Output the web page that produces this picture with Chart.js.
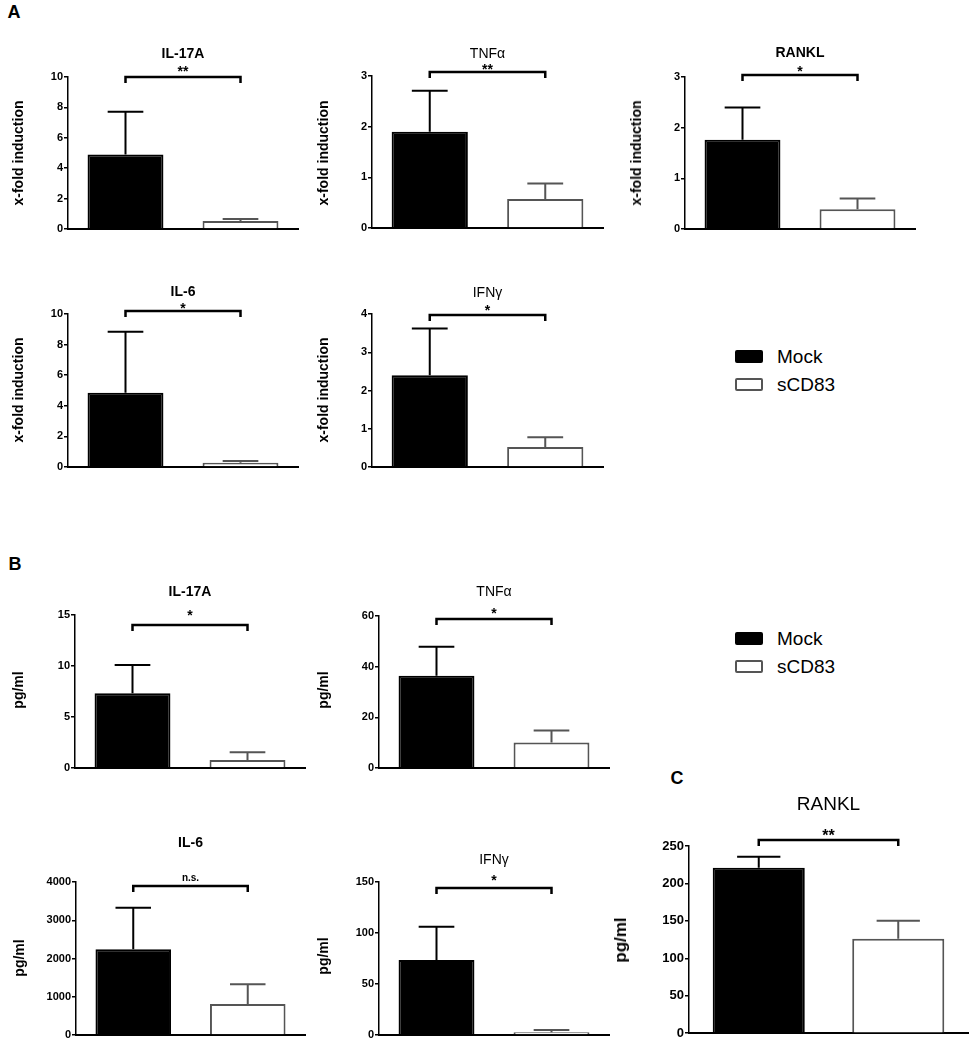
<!DOCTYPE html>
<html>
<head>
<meta charset="utf-8">
<script src="https://cdn.jsdelivr.net/npm/chart.js@4.4.0/dist/chart.umd.min.js"></script>
<style>
body { margin: 0; background: #fff; }
#fig { position: relative; width: 976px; height: 1042px; overflow: hidden; font-family: "Liberation Sans", Arial, sans-serif; }
#fig canvas { position: absolute; }
.lbl { position: absolute; white-space: nowrap; color: #000; }
.key { position: absolute; box-sizing: border-box; width: 28px; height: 13px; border-radius: 2px; }
</style>
</head>
<body>
<div id="fig"></div>
<script>
// ---- data ----
const groups = ['Mock', 'sCD83'];
const titles = ['IL-17A', 'TNFα', 'RANKL', 'IL-6', 'IFNγ', 'IL-17A', 'TNFα', 'IL-6', 'IFNγ', 'RANKL'];
const mockMean = [4.9, 1.9, 1.76, 4.86, 2.4, 7.32, 36.4, 2240, 73.5, 221];
const mockSem  = [2.82, 0.81, 0.64, 3.98, 1.22, 2.78, 11.5, 1090, 32.7, 14.8];
const cd83Mean = [0.52, 0.57, 0.39, 0.28, 0.52, 0.78, 10.1, 810, 2.6, 126.3];
const cd83Sem  = [0.14, 0.31, 0.21, 0.12, 0.26, 0.76, 4.7, 515, 2.3, 24];
const yMax  = [10, 3, 3, 10, 4, 15, 60, 4000, 150, 250];
const yStep = [2, 1, 1, 2, 1, 5, 20, 1000, 50, 50];
const signif = ['**', '**', '*', '*', '*', '*', '*', 'n.s.', '*', '**'];

// ---- panel placement (pixels) ----
const layout = [
    { x: 68,  r: 298, t: 77,  b: 229,  ty: 54,  sy: 68,  by: 77 },
    { x: 372, r: 603, t: 76,  b: 228,  ty: 54,  sy: 66,  by: 72 },
    { x: 685, r: 915, t: 77,  b: 229,  ty: 53,  sy: 68,  by: 75 },
    { x: 68,  r: 298, t: 314, b: 467,  ty: 292, sy: 305, by: 311 },
    { x: 372, r: 603, t: 314, b: 467,  ty: 293, sy: 307, by: 315 },
    { x: 75,  r: 305, t: 615, b: 768,  ty: 592, sy: 612, by: 625 },
    { x: 379, r: 609, t: 616, b: 768,  ty: 592, sy: 610, by: 619 },
    { x: 76,  r: 305, t: 882, b: 1035, ty: 843, sy: 878, by: 886 },
    { x: 379, r: 609, t: 882, b: 1035, ty: 860, sy: 877, by: 888 },
    { x: 689, r: 968, t: 846, b: 1034, ty: 805, sy: 832, by: 840, big: true }
];

const fig = document.getElementById('fig');
const FONT = '"Liberation Sans", Arial, sans-serif';

function addText(txt, x, y, css, rot) {
    const d = document.createElement('div');
    d.className = 'lbl';
    d.textContent = txt;
    d.style.cssText += css;
    d.style.left = x + 'px';
    d.style.top = y + 'px';
    d.style.transform = 'translate(-50%,-50%)' + (rot ? ' rotate(-90deg)' : '');
    fig.appendChild(d);
    return d;
}

function addKey(x, y, fill, border) {
    const k = document.createElement('div');
    k.className = 'key';
    k.style.left = x + 'px';
    k.style.top = y + 'px';
    k.style.background = fill;
    k.style.border = '2.5px solid ' + border;
    fig.appendChild(k);
}

// error bars, bracket, stars and title
function annotPlugin(i, top) {
    const p = layout[i];
    return {
        id: 'annot' + i,
        afterDatasetsDraw(chart) {
            const ctx = chart.ctx;
            const xs = chart.scales.x, ys = chart.scales.y;
            const means = [mockMean[i], cd83Mean[i]];
            const sems = [mockSem[i], cd83Sem[i]];
            ctx.save();
            ctx.lineWidth = 2;
            chart.getDatasetMeta(0).data.forEach((bar, j) => {
                const yTop = ys.getPixelForValue(means[j] + sems[j]);
                const half = bar.width * 0.235;
                ctx.strokeStyle = j === 0 ? '#000' : '#555';
                ctx.beginPath();
                ctx.moveTo(bar.x, bar.y);
                ctx.lineTo(bar.x, yTop);
                ctx.moveTo(bar.x - half, yTop);
                ctx.lineTo(bar.x + half, yTop);
                ctx.stroke();
            });

            const x1 = xs.getPixelForValue(0), x2 = xs.getPixelForValue(1);
            const by = p.by - top;
            ctx.strokeStyle = '#000';
            ctx.lineWidth = 2.5;
            ctx.beginPath();
            ctx.moveTo(x1, by + 6);
            ctx.lineTo(x1, by);
            ctx.lineTo(x2, by);
            ctx.lineTo(x2, by + 6);
            ctx.stroke();

            ctx.fillStyle = '#000';
            ctx.textAlign = 'center';
            const s = signif[i];
            if (s === 'n.s.') {
                ctx.textBaseline = 'middle';
                ctx.font = 'bold 10px ' + FONT;
                ctx.fillText(s, (x1 + x2) / 2, p.sy - top);
            } else {
                // asterisks sit high in the em box: place by baseline
                ctx.textBaseline = 'alphabetic';
                ctx.font = (p.big ? 'bold 16px ' : 'bold 14px ') + FONT;
                ctx.fillText(s, (x1 + x2) / 2, p.sy - top + (p.big ? 9 : 8));
            }

            const greek = /[αγ]/.test(titles[i]);
            const weight = (greek || p.big) ? '' : 'bold ';
            ctx.textBaseline = 'middle';
            ctx.font = weight + (p.big ? '19px ' : '14px ') + FONT;
            const ca = chart.chartArea;
            ctx.fillText(titles[i], (ca.left + ca.right) / 2, p.ty - top);
            ctx.restore();
        }
    };
}

function makePanel(i) {
    const p = layout[i];
    const left = p.x - 55;
    const top = p.ty - 14;
    const w = p.r - left + 6;
    const h = p.b - top + 8;
    const canvas = document.createElement('canvas');
    canvas.width = w;
    canvas.height = h;
    canvas.style.left = left + 'px';
    canvas.style.top = top + 'px';
    fig.appendChild(canvas);

    new Chart(canvas.getContext('2d'), {
        type: 'bar',
        data: {
            labels: groups,
            datasets: [{
                data: [mockMean[i], cd83Mean[i]],
                backgroundColor: ['#000', '#fff'],
                borderColor: ['#000', '#555'],
                borderWidth: 2,
                barPercentage: 0.66,
                categoryPercentage: 1
            }]
        },
        options: {
            responsive: false,
            animation: false,
            devicePixelRatio: 1,
            layout: { padding: { top: p.t - top, bottom: 8, right: 6, left: 0 } },
            plugins: { legend: { display: false }, tooltip: { enabled: false } },
            scales: {
                x: {
                    grid: { display: true, drawOnChartArea: false, drawTicks: false },
                    border: { display: true, color: '#000', width: 2 },
                    ticks: { display: false },
                    afterFit: function(scale) { scale.height = 0; }
                },
                y: {
                    min: 0,
                    max: yMax[i],
                    grid: { display: true, drawOnChartArea: false, drawTicks: true, tickLength: 4, color: '#000', lineWidth: 1.5 },
                    border: { display: true, color: '#000', width: 1.5 },
                    ticks: {
                        stepSize: yStep[i],
                        padding: 1,
                        color: '#000',
                        font: { family: FONT, size: p.big ? 13 : 11, weight: 'bold' },
                        callback: function(v) { return String(v); }
                    },
                    afterFit: function(scale) { scale.width = 55; }
                }
            }
        },
        plugins: [annotPlugin(i, top)]
    });
}

for (let i = 0; i < layout.length; i++) makePanel(i);

// panel letters
addText('A', 14, 12, 'font-weight:bold;font-size:18px;');
addText('B', 15, 564, 'font-weight:bold;font-size:18px;');
addText('C', 677, 778, 'font-weight:bold;font-size:18px;');

// axis titles
const yl = 'font-weight:bold;font-size:14px;';
addText('x-fold induction', 18, 153, yl, true);
addText('x-fold induction', 323, 153, yl, true);
addText('x-fold induction', 636, 153, yl, true);
addText('x-fold induction', 18, 390, yl, true);
addText('x-fold induction', 323, 390, yl, true);
addText('pg/ml', 18, 690, yl, true);
addText('pg/ml', 323, 690, yl, true);
addText('pg/ml', 19, 958, yl, true);
addText('pg/ml', 323, 956, yl, true);
addText('pg/ml', 621, 940, 'font-weight:bold;font-size:17px;', true);

// legends
[[350, 378], [632, 660]].forEach(function(ys) {
    addKey(735, ys[0], '#000', '#000');
    addKey(735, ys[1], '#fff', '#555');
    addText(groups[0], 777, ys[0] + 7, 'font-size:19px;').style.transform = 'translate(0,-50%)';
    addText(groups[1], 777, ys[1] + 7, 'font-size:19px;').style.transform = 'translate(0,-50%)';
});
</script>
</body>
</html>
